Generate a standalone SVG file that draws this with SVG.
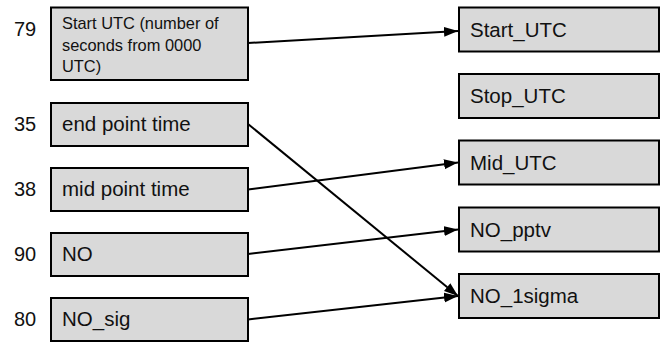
<svg xmlns="http://www.w3.org/2000/svg" width="662" height="343" viewBox="0 0 662 343">
<style>
.box{fill:#d9d9d9;stroke:#000;stroke-width:2}
.t{font-family:"Liberation Sans",Arial,sans-serif;font-size:20.5px;fill:#111}
.s{font-family:"Liberation Sans",Arial,sans-serif;font-size:16.4px;fill:#111}
.n{font-family:"Liberation Sans",Arial,sans-serif;font-size:20px;fill:#111}
.c{stroke:#000;stroke-width:2;fill:none;marker-end:url(#ah)}
</style>
<defs>
<marker id="ah" markerUnits="userSpaceOnUse" markerWidth="15" markerHeight="11" refX="14" refY="5" orient="auto">
<path d="M0,0 L14,5 L0,10 Z" fill="#000"/>
</marker>
</defs>
<rect width="662" height="343" fill="#fff"/>
<g id="src-start">
<text class="n" x="14" y="36">79</text>
<rect class="box" x="51" y="7.5" width="197" height="72.5"/>
<text class="s" x="62" y="29">Start UTC (number of</text>
<text class="s" x="62" y="50.5">seconds from 0000</text>
<text class="s" x="62" y="72">UTC)</text>
</g>
<g id="src-end">
<text class="n" x="14" y="131">35</text>
<rect class="box" x="51" y="103" width="197" height="43"/>
<text class="t" x="62" y="131">end point time</text>
</g>
<g id="src-mid">
<text class="n" x="14" y="196">38</text>
<rect class="box" x="51" y="168" width="197" height="43"/>
<text class="t" x="62" y="196">mid point time</text>
</g>
<g id="src-no">
<text class="n" x="14" y="261">90</text>
<rect class="box" x="51" y="233" width="197" height="43"/>
<text class="t" x="62" y="261">NO</text>
</g>
<g id="src-nosig">
<text class="n" x="14" y="326">80</text>
<rect class="box" x="51" y="298" width="197" height="43"/>
<text class="t" x="62" y="326">NO_sig</text>
</g>
<g id="dst-start">
<rect class="box" x="459" y="7.5" width="200" height="44"/>
<text class="t" x="470" y="36.5">Start_UTC</text>
</g>
<g id="dst-stop">
<rect class="box" x="459" y="74" width="200" height="44"/>
<text class="t" x="470" y="103">Stop_UTC</text>
</g>
<g id="dst-mid">
<rect class="box" x="459" y="140.5" width="200" height="44"/>
<text class="t" x="470" y="169.5">Mid_UTC</text>
</g>
<g id="dst-pptv">
<rect class="box" x="459" y="207.5" width="200" height="44"/>
<text class="t" x="470" y="236.5">NO_pptv</text>
</g>
<g id="dst-1sigma">
<rect class="box" x="459" y="274" width="200" height="44"/>
<text class="t" x="470" y="303">NO_1sigma</text>
</g>
<g id="connectors">
<line class="c" x1="248" y1="43" x2="458" y2="31"/>
<line class="c" x1="248" y1="124" x2="458" y2="296"/>
<line class="c" x1="248" y1="189.5" x2="458" y2="162.5"/>
<line class="c" x1="248" y1="254" x2="458" y2="229.5"/>
<line class="c" x1="248" y1="319.5" x2="458" y2="296"/>
</g>
</svg>
